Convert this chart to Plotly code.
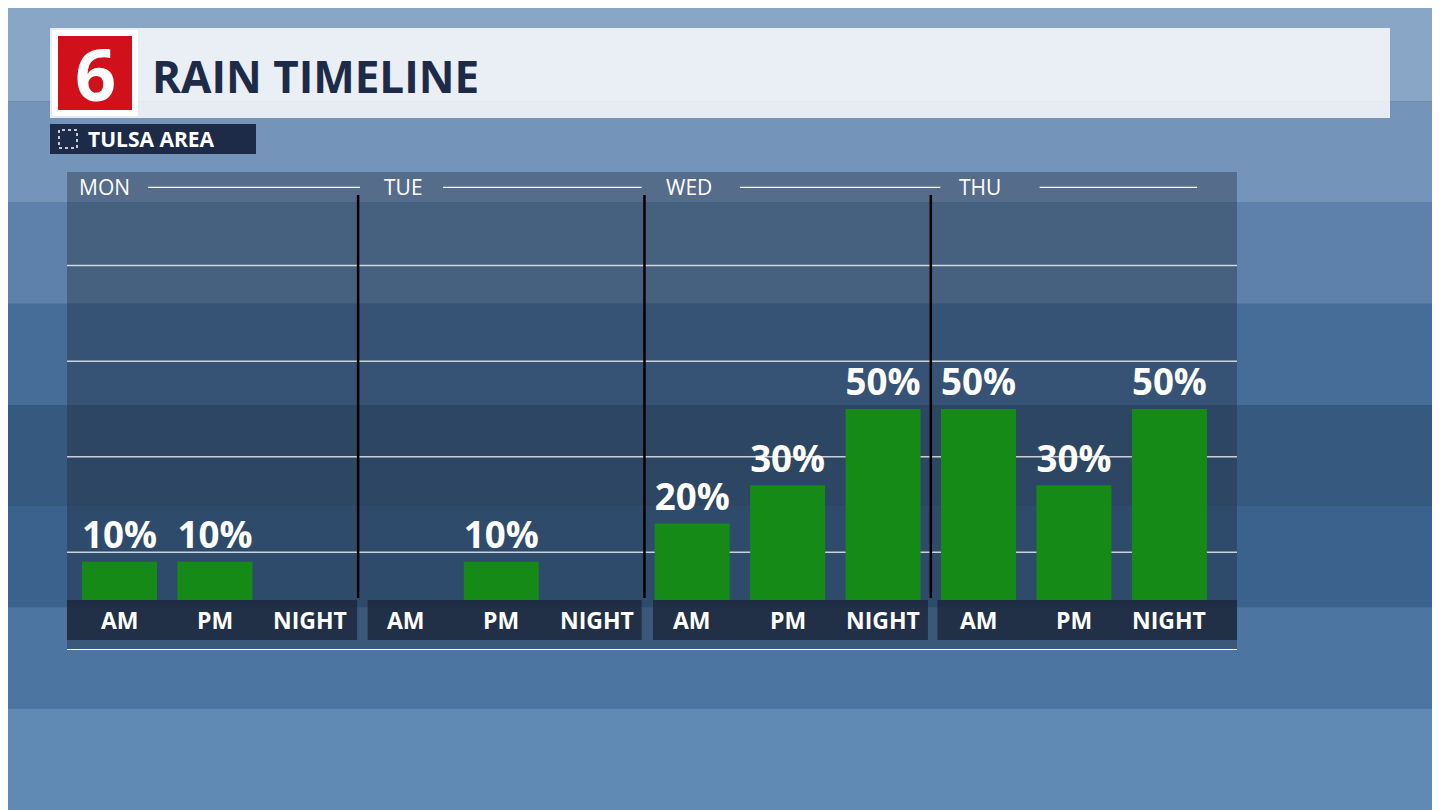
import plotly.graph_objects as go

days = ["MON", "TUE", "WED", "THU"]
periods = ["AM", "PM", "NIGHT"]
values = [10, 10, 0, 0, 10, 0, 20, 30, 50, 50, 30, 50]

W, H = 1440, 810
OFF = 8  # page offset
L, R, T, B = 67 - OFF, 1237 - OFF, 172 - OFF, 650 - OFF
ymin, ymax = -13.1, 112.0
xmin, xmax = -0.05, 12.208

def px_x(p): return (p - OFF - L) / (R - L)
def px_y(p): return (B - (p - OFF)) / (B - T)

fig = go.Figure()
xs = [i + 0.5 for i in range(12)]
fig.add_bar(x=xs, y=values, width=0.786, marker=dict(color="#168a16", line_width=0),
            text=[f"<b>{v}%</b>" if v > 0 else "" for v in values], textposition="outside",
            textfont=dict(family="Open Sans", size=38, color="white"), cliponaxis=False)

shapes = []
bands = ["#8aa6c6", "#7594ba", "#5e81ab", "#466c98", "#36597f", "#3b628d", "#4d75a1", "#6089b3"]
for i, c in enumerate(bands):
    shapes.append(dict(type="rect", xref="paper", yref="paper", x0=px_x(0), x1=px_x(W + 20),
                       y0=px_y(H * (i + 1) / len(bands) + (20 if i == len(bands) - 1 else 0)),
                       y1=px_y(H * i / len(bands) - (20 if i == 0 else 0)),
                       fillcolor=c, line_width=0, layer="below"))
shapes.append(dict(type="rect", xref="x", yref="y", x0=xmin, x1=xmax, y0=ymin, y1=ymax,
                   fillcolor="rgba(25,35,50,0.35)", line_width=0, layer="below"))
for g in [12.5, 37.5, 62.5, 87.5]:
    shapes.append(dict(type="line", xref="x", yref="y", x0=xmin, x1=xmax, y0=g, y1=g,
                       line=dict(color="rgba(255,255,255,0.75)", width=1.5), layer="below"))
strips = [(xmin, 2.99), (3.10, 5.97), (6.09, 8.97), (9.07, xmax)]
for a, b in strips:
    shapes.append(dict(type="rect", xref="x", yref="y", x0=a, x1=b, y0=ymin + 2.6, y1=0,
                       fillcolor="rgba(25,35,55,0.75)", line_width=0, layer="below"))
for d in range(1, 4):
    shapes.append(dict(type="line", xref="x", yref="y", x0=d * 3, x1=d * 3, y0=0.5, y1=106,
                       line=dict(color="black", width=2.5)))
day_line = [(0.8, 3.02), (3.89, 5.97), (7.0, 9.1), (10.14, 11.79)]
for a, b in day_line:
    shapes.append(dict(type="line", xref="x", yref="y", x0=a, x1=b, y0=108, y1=108,
                       line=dict(color="white", width=1.2)))
shapes.append(dict(type="line", xref="x", yref="y", x0=xmin, x1=xmax, y0=ymin, y1=ymin,
                   line=dict(color="white", width=2)))
def prect(x0, x1, y0, y1, **kw):
    shapes.append(dict(type="rect", xref="paper", yref="paper", x0=px_x(x0), x1=px_x(x1),
                       y0=px_y(y1), y1=px_y(y0), **kw))
prect(50, 1390, 28, 118, fillcolor="rgba(255,255,255,0.82)", line_width=0)
prect(52, 138, 30, 116, fillcolor="white", line_width=0)
prect(58, 132, 36, 110, fillcolor="#d0101a", line_width=0)
prect(50, 256, 124, 154, fillcolor="#1e2b48", line_width=0)
prect(59, 77, 130, 148, line=dict(color="white", width=1.5, dash="dot"))

ann = []
ann.append(dict(text="<b>6</b>", xref="paper", yref="paper", x=px_x(95), y=px_y(73), showarrow=False,
                font=dict(family="Open Sans", size=72, color="white"), xanchor="center", yanchor="middle"))
ann.append(dict(text="<b>RAIN TIMELINE</b>", xref="paper", yref="paper", x=px_x(150), y=px_y(76),
                showarrow=False, xanchor="left", yanchor="middle",
                font=dict(family="Open Sans", size=44, color="#1e2b48")))
ann.append(dict(text="<b>TULSA AREA</b>", xref="paper", yref="paper", x=px_x(86), y=px_y(139),
                showarrow=False, xanchor="left", yanchor="middle",
                font=dict(family="Open Sans", size=21, color="white")))
day_x = [0.055, 3.25, 6.2, 9.27]
for d, name in enumerate(days):
    ann.append(dict(text=name, xref="x", yref="y", x=day_x[d], y=108, showarrow=False,
                    xanchor="left", yanchor="middle", font=dict(family="Open Sans", size=21, color="white")))
for i in range(12):
    ann.append(dict(text=f"<b>{periods[i % 3]}</b>", xref="x", yref="y", x=i + 0.5, y=ymin / 2 + 1.3,
                    showarrow=False, xanchor="center", yanchor="middle",
                    font=dict(family="Open Sans", size=23, color="white")))

fig.update_layout(width=W, height=H, margin=dict(l=L, r=W - R, t=T, b=H - B),
                  plot_bgcolor="rgba(0,0,0,0)", paper_bgcolor="#4a6a8f",
                  shapes=shapes, annotations=ann, showlegend=False,
                  xaxis=dict(range=[xmin, xmax], visible=False, fixedrange=True),
                  yaxis=dict(range=[ymin, ymax], visible=False, fixedrange=True))
fig.write_html("out.html")
